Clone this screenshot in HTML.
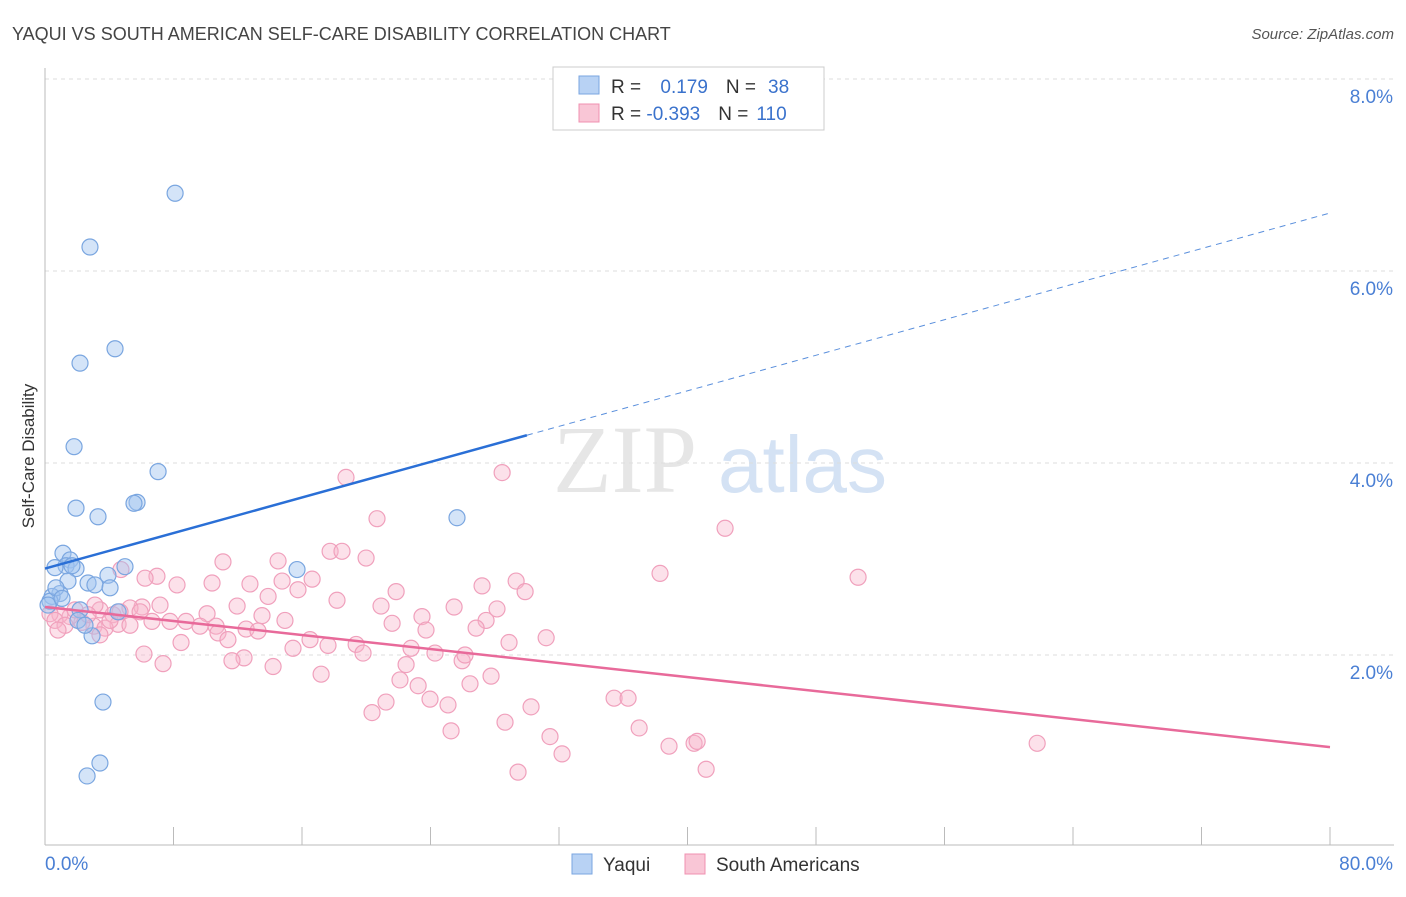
<!DOCTYPE html>
<html><head><meta charset="utf-8"><style>
body{margin:0;background:#fff;font-family:"Liberation Sans",sans-serif;}
</style></head><body>
<svg id="chart" width="1406" height="892" xmlns="http://www.w3.org/2000/svg" style="font-family:'Liberation Sans',sans-serif">
<text x="12" y="40" font-size="18" fill="#444">YAQUI VS SOUTH AMERICAN SELF-CARE DISABILITY CORRELATION CHART</text>
<text x="1394" y="39" font-size="15" fill="#555" font-style="italic" text-anchor="end">Source: ZipAtlas.com</text>
<text transform="translate(34,456) rotate(-90)" font-size="17" fill="#333" text-anchor="middle">Self-Care Disability</text>
<g>
<text x="553" y="492" font-size="96" font-family="'Liberation Serif',serif" fill="#e6e6e6">ZIP</text>
<text x="718" y="492" font-size="80" fill="#d4e2f4">atlas</text>
</g>
<g id="grid"></g><g id="axes"></g><g id="marks"></g><g id="lines"></g>
<g>
<rect x="553" y="67" width="271" height="63" fill="#fff" stroke="#ccc"/>
<rect x="579" y="76" width="20" height="18" fill="#b8d2f4" stroke="#7aa6e0"/>
<rect x="579" y="104" width="20" height="18" fill="#f9c6d6" stroke="#f090b0"/>
<text x="611" y="93" font-size="19" fill="#333">R = <tspan fill="#3a72cc" dx="14">0.179</tspan><tspan dx="18" fill="#333">N =</tspan><tspan dx="12" fill="#3a72cc">38</tspan></text>
<text x="611" y="120" font-size="19" fill="#333">R = <tspan fill="#3a72cc">-0.393</tspan><tspan dx="18" fill="#333">N =</tspan><tspan dx="8" fill="#3a72cc">110</tspan></text>
</g>
<g>
<rect x="572" y="854" width="20" height="20" fill="#b8d2f4" stroke="#7aa6e0"/>
<text x="603" y="871" font-size="19" fill="#333">Yaqui</text>
<rect x="685" y="854" width="20" height="20" fill="#f9c6d6" stroke="#f090b0"/>
<text x="716" y="871" font-size="19" fill="#333">South Americans</text>
</g>
</svg>
<script>
const yTicks=[2,4,6,8];
const yTickLabels=["2.0%","4.0%","6.0%","8.0%"];
const xLabels=["0.0%","80.0%"];
const blueX=[8.1,2.8,4.36,2.18,1.81,7.04,5.73,5.54,1.93,3.3,25.65,15.69,1.12,1.56,1.31,0.62,1.93,4.98,3.92,1.43,2.68,3.11,4.05,0.93,0.44,0.31,0.19,2.18,4.55,2.05,2.93,3.61,3.42,2.62,0.68,1.06,2.49,1.68];
const blueY=[6.81,6.25,5.19,5.04,4.17,3.91,3.59,3.58,3.53,3.44,3.43,2.89,3.06,2.99,2.93,2.91,2.90,2.92,2.83,2.77,2.75,2.73,2.70,2.64,2.61,2.56,2.52,2.47,2.45,2.36,2.20,1.51,0.875,0.74,2.70,2.59,2.31,2.93];
const pinkX=[18.74,28.46,20.67,42.34,17.75,18.49,19.99,14.51,11.08,38.29,50.62,6.97,6.23,4.73,29.33,10.40,8.22,12.76,14.76,16.63,15.75,13.89,21.86,29.89,27.21,18.18,11.96,10.09,20.92,25.47,28.14,6.04,5.29,4.23,3.42,23.47,13.51,14.94,6.66,7.78,8.78,9.65,10.65,12.52,21.61,27.46,26.84,23.72,4.55,3.05,3.74,2.30,1.56,0.93,0.31,31.20,28.89,13.26,10.77,8.47,11.39,16.50,17.62,19.37,22.79,24.28,15.44,19.80,6.16,12.39,11.64,25.97,26.15,22.48,7.35,14.20,17.19,27.77,22.10,26.46,23.23,23.97,21.23,25.09,35.43,36.30,20.36,30.26,28.64,36.99,25.28,31.44,38.85,40.41,40.60,32.19,29.45,41.16,61.77,3.11,0.62,1.87,2.68,1.25,4.05,4.67,5.92,7.16,0.81,5.29,3.42];
const pinkY=[3.85,3.90,3.42,3.32,3.08,3.08,3.01,2.98,2.97,2.85,2.81,2.82,2.80,2.89,2.77,2.75,2.73,2.74,2.77,2.79,2.68,2.61,2.66,2.66,2.72,2.57,2.51,2.43,2.51,2.50,2.48,2.50,2.49,2.42,2.47,2.40,2.41,2.36,2.35,2.35,2.35,2.30,2.30,2.27,2.33,2.36,2.28,2.26,2.32,2.30,2.28,2.34,2.40,2.42,2.43,2.18,2.13,2.25,2.23,2.13,2.16,2.16,2.10,2.11,2.07,2.02,2.07,2.02,2.01,1.97,1.94,1.94,2.00,1.90,1.91,1.88,1.80,1.78,1.74,1.70,1.68,1.54,1.51,1.48,1.55,1.55,1.40,1.46,1.30,1.24,1.21,1.15,1.05,1.08,1.10,0.97,0.78,0.81,1.08,2.52,2.36,2.47,2.42,2.31,2.36,2.45,2.45,2.52,2.26,2.31,2.21];
const blueTrend=[2.9,0.0463]; // intercept, slope
const pinkTrend=[2.5,-0.01825];
const blueSolidEnd=30;

const NS="http://www.w3.org/2000/svg";
const X0=45,X1=1330,Y0=847,PXY=96;
const xs=v=>X0+v/80*(X1-X0);
const ys=v=>Y0-v*PXY;
function mk(tag,attrs,parent){const e=document.createElementNS(NS,tag);for(const k in attrs)e.setAttribute(k,attrs[k]);document.getElementById(parent).appendChild(e);return e;}
yTicks.forEach((t,i)=>{
 const g=mk('line',{x1:45,x2:1394,y1:ys(t),y2:ys(t),stroke:'#ddd','stroke-dasharray':'4,4'},'grid');
 
 
 const l=mk('text',{x:1393,y:ys(t)+24,'font-size':19,fill:'#4a7fd4','text-anchor':'end'},'grid');
 l.textContent=yTickLabels[i];
 
 
});
const ax=mk('line',{x1:45,x2:1394,y1:845,y2:845,stroke:'#bbb'},'axes');


const ay=mk('line',{x1:45,x2:45,y1:68,y2:845,stroke:'#bbb'},'axes');


for(let i=0;i<=10;i++){const t=mk('line',{x1:xs(i*8),x2:xs(i*8),y1:827,y2:845,stroke:'#bbb'},'axes');
 
 }
const xl0=mk('text',{x:45,y:870,'font-size':19,fill:'#4a7fd4'},'axes');xl0.textContent=xLabels[0];


const xl1=mk('text',{x:1393,y:870,'font-size':19,fill:'#4a7fd4','text-anchor':'end'},'axes');xl1.textContent=xLabels[1];


pinkX.forEach((v,i)=>{const c=mk('circle',{cx:xs(v),cy:ys(pinkY[i]),r:8,fill:'rgba(248,180,202,0.4)',stroke:'#f0a0bc','stroke-width':1.2},'marks');
 
 });
blueX.forEach((v,i)=>{const c=mk('circle',{cx:xs(v),cy:ys(blueY[i]),r:8,fill:'rgba(160,196,240,0.45)',stroke:'#7aa6e0','stroke-width':1.2},'marks');
 
 });
const bl=mk('line',{x1:xs(0),y1:ys(blueTrend[0]),x2:xs(blueSolidEnd),y2:ys(blueTrend[0]+blueTrend[1]*blueSolidEnd),stroke:'#2a6fd6','stroke-width':2.5},'lines');


const bd=mk('line',{x1:xs(blueSolidEnd),y1:ys(blueTrend[0]+blueTrend[1]*blueSolidEnd),x2:xs(80),y2:ys(blueTrend[0]+blueTrend[1]*80),stroke:'#5a8fdc','stroke-width':1,'stroke-dasharray':'6,5'},'lines');


const pl=mk('line',{x1:xs(0),y1:ys(pinkTrend[0]),x2:xs(80),y2:ys(pinkTrend[0]+pinkTrend[1]*80),stroke:'#e86a9a','stroke-width':2.5},'lines');


</script>
</body></html>
